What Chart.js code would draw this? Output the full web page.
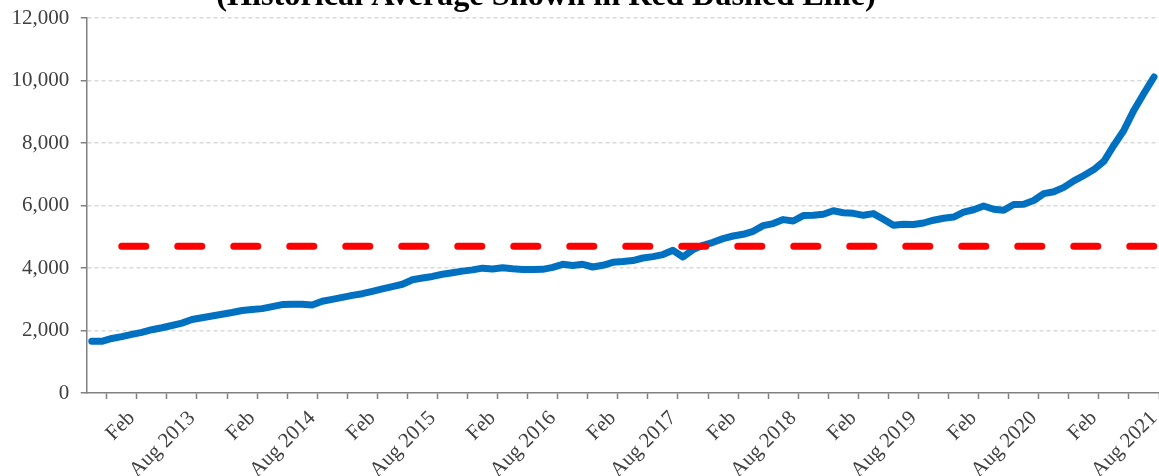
<!DOCTYPE html>
<html lang="en">
<head>
<meta charset="UTF-8">
<title>Historical Average</title>
<script src="https://cdn.jsdelivr.net/npm/chart.js@4.4.1/dist/chart.umd.min.js"></script>
<style>
  body { margin: 0; background: #ffffff; }
  #chart { display: block; }
</style>
</head>
<body>
<canvas id="chart" width="1159" height="476"></canvas>
<script>
// monthly series, Oct 2012 .. Aug 2021
const firstYear = 2012;
const firstMonth = 9; // October (0 based)
const monthNames = ["Jan", "Feb", "Mar", "Apr", "May", "Jun", "Jul", "Aug", "Sep", "Oct", "Nov", "Dec"];

const values = [
  1654, 1654, 1745, 1805, 1878, 1942, 2025, 2088, 2160, 2235,
  2350, 2407, 2463, 2520, 2575, 2640, 2670, 2700, 2765, 2830,
  2838, 2840, 2815, 2935, 2995, 3060, 3125, 3178, 3255, 3330,
  3405, 3480, 3625, 3680, 3730, 3800, 3850, 3900, 3940, 3995,
  3968, 4010, 3975, 3955, 3950, 3958, 4020, 4118, 4077, 4118,
  4032, 4086, 4182, 4205, 4237, 4320, 4365, 4430, 4566, 4352,
  4589, 4726, 4822, 4941, 5024, 5078, 5174, 5357, 5421, 5549,
  5504, 5677, 5686, 5720, 5830, 5770, 5750, 5686, 5741, 5560,
  5370, 5400, 5390, 5440, 5530, 5590, 5630, 5790, 5865, 5984,
  5880, 5850, 6030, 6040, 6160, 6381, 6440, 6580, 6790, 6960,
  7149, 7414, 7930, 8410, 9050, 9590, 10112
];
const histAverage = 4700;
const yTicks = [0, 2000, 4000, 6000, 8000, 10000, 12000];
const titleText = "(Historical Average Shown in Red Dashed Line)";

const textColor = "#404040";
const axisColor = "#808080";
const serif = "'Liberation Serif', 'Times New Roman', serif";

function monthOf(i) {
  const m = firstMonth + i;
  return { year: firstYear + Math.floor(m / 12), month: m % 12 };
}

// tick marks every quarter (after Nov, Feb, May, Aug), labels on Feb / Aug
const tickIdx = values.map((v, i) => i).filter(i => monthOf(i).month % 3 === 1);

function tickLabel(value) {
  const i = Math.round(value - 0.5);
  const mo = monthOf(i);
  if (mo.month === 1) return monthNames[1];
  if (mo.month === 7) return monthNames[7] + " " + mo.year;
  return "";
}

const clippedTitle = {
  id: "clippedTitle",
  afterDraw(chart) {
    const c = chart.ctx;
    c.save();
    c.font = "bold 32.3px " + serif;
    c.fillStyle = "#000000";
    c.textAlign = "center";
    c.textBaseline = "alphabetic";
    c.fillText(titleText, 546, 5);
    c.restore();
  }
};

const ctx = document.getElementById("chart").getContext("2d");

new Chart(ctx, {
  type: "line",
  data: {
    datasets: [
      {
        label: "Historical average",
        data: values.map((v, i) => ({ x: i, y: histAverage })),
        borderColor: "#FF0000",
        borderWidth: 7,
        borderDash: [24, 32],
        borderDashOffset: 26,
        borderCapStyle: "round",
        pointRadius: 0,
        fill: false
      },
      {
        label: "Value",
        data: values.map((v, i) => ({ x: i, y: v })),
        borderColor: "#0070C0",
        borderWidth: 7,
        borderCapStyle: "round",
        borderJoinStyle: "round",
        pointRadius: 0,
        tension: 0,
        fill: false
      }
    ]
  },
  options: {
    responsive: false,
    animation: false,
    layout: { padding: { top: 18, left: 0, right: 0, bottom: 0 } },
    plugins: {
      legend: { display: false },
      tooltip: { enabled: false }
    },
    scales: {
      x: {
        type: "linear",
        min: -0.5,
        max: values.length - 0.5,
        afterBuildTicks: scale => {
          scale.ticks = tickIdx.map(i => ({ value: i + 0.5 }));
        },
        afterFit: scale => {
          scale.paddingLeft = 0;
          scale.paddingRight = 0;
          scale.height = 83;
        },
        ticks: {
          autoSkip: false,
          minRotation: 45,
          maxRotation: 45,
          padding: 7,
          labelOffset: -5,
          color: textColor,
          font: { family: serif, size: 21 },
          callback: value => tickLabel(value)
        },
        grid: {
          drawOnChartArea: false,
          drawTicks: true,
          tickLength: 6,
          tickColor: axisColor,
          tickWidth: 1.5
        },
        border: { color: axisColor, width: 1.5 }
      },
      y: {
        min: 0,
        max: 12000,
        afterBuildTicks: scale => {
          scale.ticks = yTicks.map(v => ({ value: v }));
        },
        afterFit: scale => {
          scale.paddingTop = 0;
          scale.paddingBottom = 0;
        },
        ticks: {
          padding: 11.5,
          color: textColor,
          font: { family: serif, size: 21 },
          callback: value => value.toLocaleString("en-US")
        },
        grid: {
          color: c => (c.tick && c.tick.value === 0 ? "rgba(0,0,0,0)" : "#D9D9D9"),
          lineWidth: 1.5,
          tickColor: axisColor,
          tickWidth: 1.5,
          tickLength: 6,
          tickBorderDash: []
        },
        border: { color: axisColor, width: 1.5, dash: [4, 3] }
      }
    }
  },
  plugins: [clippedTitle]
});
</script>
</body>
</html>
